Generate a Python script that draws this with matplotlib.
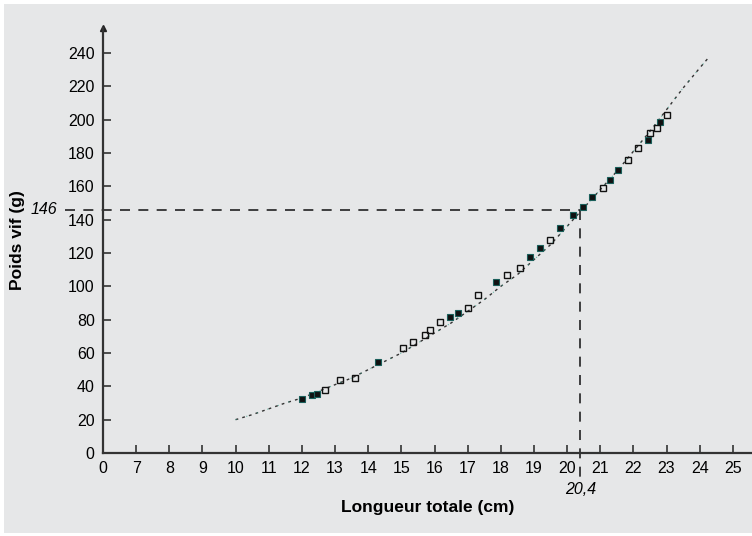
import matplotlib.pyplot as plt
from matplotlib.patches import Rectangle

# fitted curve
curve_x = [10, 10.5, 11, 11.5, 12, 12.5, 13, 13.5, 14, 14.5, 15, 15.5, 16, 16.5, 17,
           17.5, 18, 18.5, 19, 19.5, 20, 20.5, 21, 21.5, 22, 22.5, 23, 23.5, 24, 24.3]
curve_y = [20, 23, 26.5, 30, 33, 37, 41, 45, 50, 55, 60, 66, 72, 78, 85,
           92, 100, 107, 116, 125, 136, 147, 158, 169, 181, 193, 206, 219, 231, 238]

# measured fish, filled markers
full_x = [12.0, 12.3, 12.45, 14.3, 16.47, 16.7, 17.87, 18.88, 19.18, 19.79, 20.18,
          20.48, 20.74, 21.3, 21.53, 22.44, 22.8]
full_y = [32.4, 34.8, 35.2, 54.8, 81.8, 84.0, 102.8, 117.8, 123.0, 135.0, 142.8,
          147.8, 153.8, 163.8, 169.8, 187.8, 198.8]

# measured fish, open markers
open_x = [12.7, 13.15, 13.6, 15.05, 15.35, 15.7, 15.86, 16.17, 17.0, 17.3, 18.18,
          18.58, 19.48, 21.08, 21.84, 22.14, 22.5, 22.7, 23.0]
open_y = [37.8, 43.8, 45.2, 63.0, 66.8, 70.8, 73.8, 78.8, 87.0, 94.8, 106.8,
          111.0, 127.8, 159.0, 175.8, 183.0, 192.0, 195.0, 202.8]

x_ticks = [6, 7, 8, 9, 10, 11, 12, 13, 14, 15, 16, 17, 18, 19, 20, 21, 22, 23, 24, 25]
x_labels = ['0'] + [str(t) for t in x_ticks[1:]]
y_ticks = list(range(0, 241, 20))

L_ref = 20.4
W_ref = 146

plt.rcParams['font.family'] = ['Liberation Sans', 'DejaVu Sans']

fig = plt.figure(figsize=(7.52, 5.36), dpi=100)
fig.patch.set_facecolor('white')
fig.patches.append(Rectangle((4 / 752, 3 / 536), 748 / 752, 529 / 536,
                             transform=fig.transFigure, facecolor='#e6e7e8',
                             edgecolor='none', zorder=-10))

ax = fig.add_axes([103 / 752, 83 / 536, 649 / 752, 425 / 536])
ax.set_facecolor('none')
ax.set_xlim(6, 6 + 649 / 33.15)
ax.set_ylim(0, 255)

for s in ['top', 'right']:
    ax.spines[s].set_visible(False)
for s in ['left', 'bottom']:
    ax.spines[s].set_color('#333333')
    ax.spines[s].set_linewidth(1.6)

# arrow on top of the y axis
ax.plot([6], [255], marker='^', color='#222222', markersize=5, clip_on=False)

ax.set_xticks(x_ticks)
ax.set_xticklabels(x_labels)
ax.set_yticks(y_ticks)
ax.tick_params(axis='x', direction='in', length=6, width=1.2, color='#333333',
               labelsize=11.5, pad=6)
ax.tick_params(axis='y', direction='in', length=6, width=1.2, color='#333333',
               labelsize=11.5, pad=6)

# reference dashed lines
ax.plot([4.85, L_ref], [W_ref, W_ref], color='#222222', lw=1.2, dashes=(6, 5),
        clip_on=False)
ax.plot([L_ref, L_ref], [W_ref, -15.5], color='#222222', lw=1.2, dashes=(6, 5),
        clip_on=False)
ax.text(4.62, W_ref, '146', ha='right', va='center', fontsize=11.5, style='italic')
ax.text(L_ref, -17.5, '20,4', ha='center', va='top', fontsize=11.5, style='italic')

ax.plot(curve_x, curve_y, color='#333333', lw=1.0, dashes=(2, 3))
ax.plot(curve_x, curve_y, color='#3aa58f', lw=0.8, dashes=(1, 9), alpha=0.7)

ax.plot(full_x, full_y, 's', color='#111111', markersize=4.5, markeredgewidth=0.8,
        markeredgecolor='#1a5f5a')
ax.plot(open_x, open_y, 's', markerfacecolor='none', markeredgecolor='#111111',
        markersize=5, markeredgewidth=1.0)

ax.set_xlabel('Longueur totale (cm)', fontsize=12.5, fontweight='bold', labelpad=17)
ax.set_ylabel('Poids vif (g)', fontsize=12.5, fontweight='bold', labelpad=31)

fig.savefig('out.png', dpi=100, facecolor=fig.get_facecolor())
